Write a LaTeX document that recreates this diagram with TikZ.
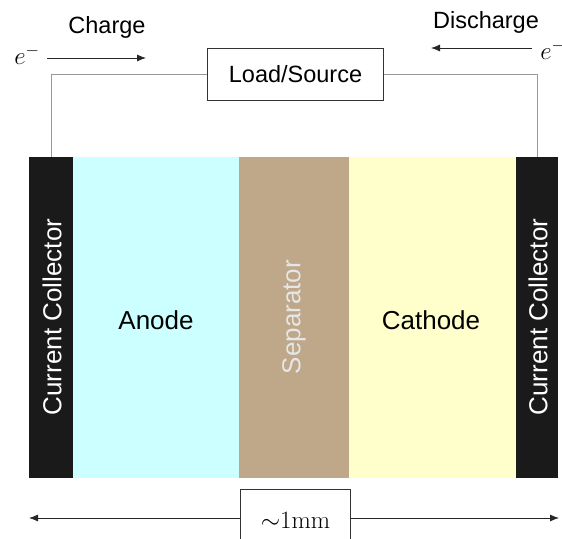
\documentclass[tikz,border=0pt]{standalone}
\usepackage{fontspec}
\setsansfont{Liberation Sans}
\usetikzlibrary{arrows.meta}
\definecolor{ccblack}{HTML}{1A1A1A}
\definecolor{anodec}{HTML}{CCFFFF}
\definecolor{sepc}{HTML}{BFA889}
\definecolor{cathc}{HTML}{FFFFCC}
\definecolor{wirec}{HTML}{999999}
\definecolor{sepText}{HTML}{E6E6E6}
\tikzset{
  layer/.style={inner sep=0pt, minimum height=321pt, font=\sffamily\fontsize{26}{30}\selectfont},
  lbl/.style={inner sep=0pt, font=\sffamily\fontsize{23.5}{28}\selectfont},
  tip/.style={-{Latex[length=9pt,width=7pt]}, draw=black!85, line width=0.8pt},
  wire/.style={draw=wirec, line width=1pt},
  boxed/.style={draw=black!80, line width=1.3pt, inner sep=0pt},
  emath/.style={inner sep=0pt, font=\fontsize{27}{30}\selectfont}
}
\begin{document}
\begin{tikzpicture}[x=1pt,y=-1pt]
\useasboundingbox (0,0) rectangle (562,538);
\clip (0,0) rectangle (562,538);
% layers
\node[layer, fill=ccblack, minimum width=44pt] (lcc) at (51,317.5) {};
\node[layer, fill=anodec, minimum width=166pt] (anode) at (156,317.5) {};
\node[layer, fill=sepc, minimum width=110pt] (sep) at (294,317.5) {};
\node[layer, fill=cathc, minimum width=167pt] (cath) at (432.5,317.5) {};
\node[layer, fill=ccblack, minimum width=42pt] (rcc) at (537,317.5) {};
% labels in layers
\node[layer, minimum height=0pt, rotate=90, text=white] (lcct) at (52,317) {Current Collector};
\node[layer, minimum height=0pt, rotate=90, text=white] (rcct) at (538,317) {Current Collector};
\node[layer, minimum height=0pt, rotate=90, text=sepText] (sept) at (294,317) {Separator};
\node[layer, minimum height=0pt] (anodet) at (156,320) {Anode};
\node[layer, minimum height=0pt] (catht) at (431,320) {Cathode};
% load box
\node[boxed, lbl, minimum width=176pt, minimum height=52pt] (load) at (295.5,74.5) {Load/Source};
\draw[wire] (lcc.north) |- (load.west);
\draw[wire] (rcc.north) |- (load.east);
% charge / discharge
\node[lbl] (charge) at (107,27) {Charge};
\node[lbl] (discharge) at (486,22) {Discharge};
\node[emath] (eL) at (27,55) {$e^-$};
\node[emath] (eR) at (553,50) {$e^-$};
\coordinate (c1) at (47,58);
\coordinate (c2) at (146,58);
\coordinate (d1) at (532,48);
\coordinate (d2) at (431,48);
\draw[tip] (c1) -- (c2);
\draw[tip] (d1) -- (d2);
% dimension
\node[boxed, emath, minimum width=110pt, minimum height=62pt, font=\fontsize{25}{30}\selectfont] (dim) at (295.5,520.5) {$\sim$1mm};
\coordinate (dl) at (29,518);
\coordinate (dr) at (559,518);
\draw[tip] (dim.west |- dl) -- (dl);
\draw[tip] (dim.east |- dr) -- (dr);
\end{tikzpicture}
\end{document}
